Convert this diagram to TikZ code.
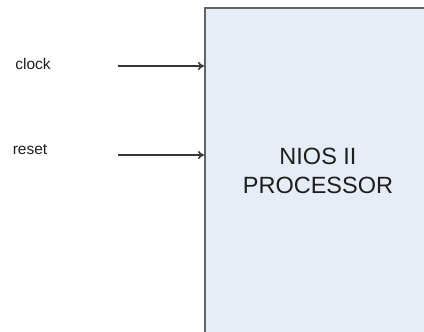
\documentclass[tikz,border=0pt]{standalone}
\usepackage{fontspec}
\setmainfont{Liberation Sans}
\usetikzlibrary{arrows.meta,positioning}
\definecolor{boxfill}{RGB}{230,237,247}
\definecolor{boxline}{RGB}{100,100,100}
\definecolor{wirecolor}{RGB}{55,55,55}
\definecolor{txtcolor}{RGB}{30,30,30}

\begin{document}
\begin{tikzpicture}[
  x=1pt,y=-1pt,
  >={To[length=6pt,width=8pt]},
  procbox/.style={rectangle,draw=boxline,fill=boxfill,line width=2pt,
                  minimum width=300pt,minimum height=380pt,anchor=north west,inner sep=0pt},
  sigwire/.style={->,line width=1.6pt,wirecolor},
  siglbl/.style={font=\fontsize{15.5}{18}\selectfont,text=txtcolor,inner sep=0pt},
  proclbl/.style={font=\fontsize{23.5}{29}\selectfont,text=txtcolor,align=center,inner sep=0pt}
]
\useasboundingbox (0,0) rectangle (424,332);
\fill[white] (0,0) rectangle (424,332);
\node[procbox] (cpu) at (204,7) {};
\node[proclbl] (cpuname) at (318,171) {NIOS II\\PROCESSOR};
\node[siglbl] (clk) at (33,64) {clock};
\node[siglbl] (rst) at (30,150) {reset};
\coordinate (clkin) at (118,66);
\coordinate (rstin) at (118,155);
\draw[sigwire] (clkin) -- (clkin -| cpu.west);
\draw[sigwire] (rstin) -- (rstin -| cpu.west);
\end{tikzpicture}
\end{document}
